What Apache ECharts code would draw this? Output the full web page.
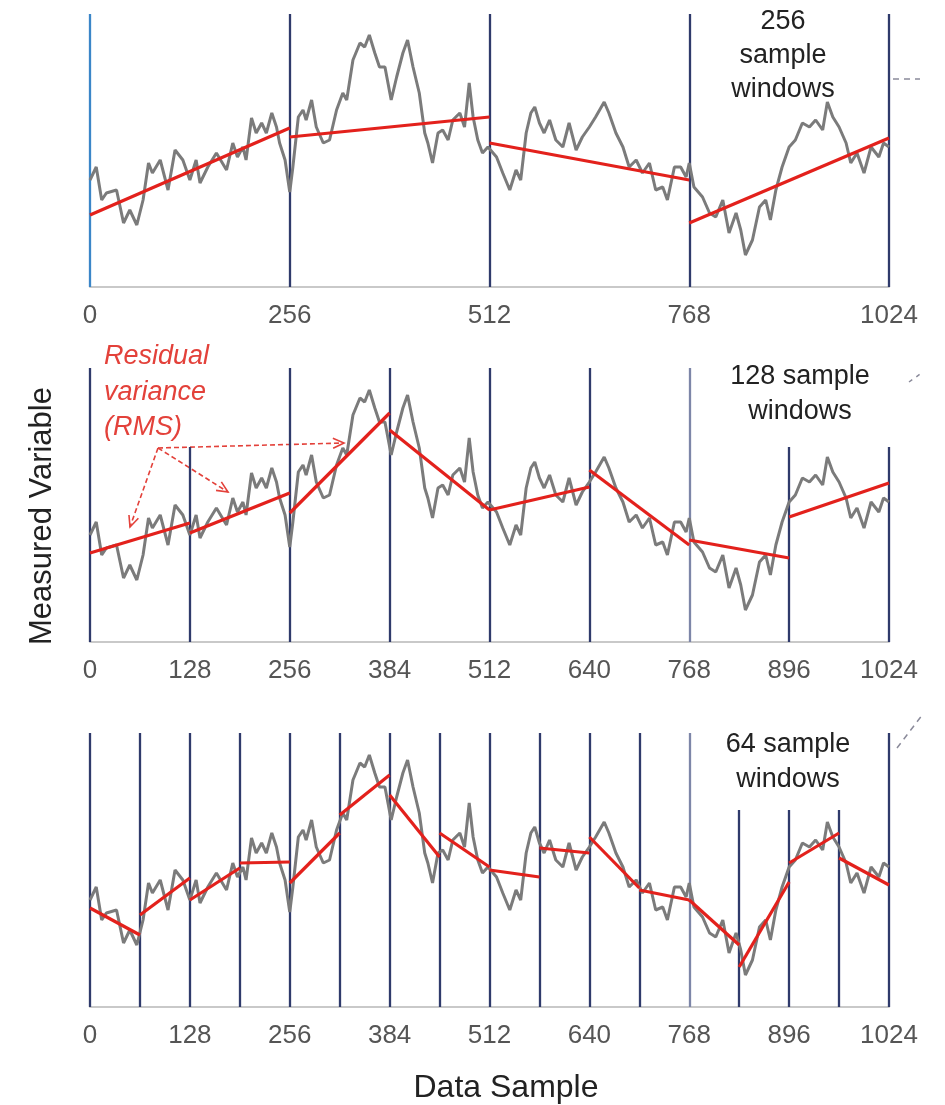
<!DOCTYPE html>
<html>
<head>
<meta charset="utf-8">
<script src="https://cdn.jsdelivr.net/npm/echarts@6/dist/echarts.min.js"></script>
<style>
html,body{margin:0;padding:0;background:#fff;}
#chart{width:945px;height:1105px;}
</style>
</head>
<body>
<div id="chart"></div>
<script>
// ---- data ----
var sampleIdx = [0,8,15,21,34,43,51,60,68,75,80,90,100,109,119,128,136,141,151,162,175,183,189,196,200,207,213,220,226,233,239,243,250,256,260,267,273,277,284,290,299,307,316,324,329,337,346,352,358,365,371,378,386,393,401,407,414,422,429,433,439,446,452,459,465,474,480,486,491,497,503,510,521,529,538,546,552,559,565,570,576,582,589,597,606,614,623,631,640,648,659,665,674,683,691,700,708,717,725,734,740,749,757,764,768,774,785,794,802,811,819,828,834,840,849,858,866,872,879,887,896,904,913,922,930,939,945,952,960,969,975,983,992,1001,1011,1017,1024];
var signalVals = [107,120,87,94,97,64,77,62,87,124,114,127,97,137,127,107,127,104,120,134,117,144,130,140,127,169,154,164,154,174,160,144,127,95,120,170,177,167,187,160,144,147,177,194,187,227,244,240,252,234,220,220,187,210,234,247,220,194,154,144,124,154,157,147,167,174,160,204,170,147,134,140,130,114,97,117,107,154,174,180,164,154,167,147,140,164,137,150,160,170,185,174,154,140,120,127,114,124,97,100,87,120,120,110,124,100,90,74,70,87,54,74,57,32,47,80,87,67,97,120,140,147,164,160,167,157,185,170,160,144,124,134,114,140,130,144,140];

// window sizes per panel
var windowSizes = [256, 128, 64];
// linear-fit endpoints [start, end] per window
var fit256 = [[72,159],[150,170],[144,107],[64,149]];
var fit128 = [[89,119],[109,149],[129,229],[212,132],[132,155],[172,97],[102,84],[125,159]];
var fit64  = [[99,72],[92,129],[107,139],[144,145],[124,174],[192,232],[212,150],[174,140],[137,130],[159,154],[170,119],[117,107],[107,62],[40,125],[144,174],[149,122]];
// top of each window boundary line (one per boundary 0..1024)
var lineTop256 = [273,273,273,273,273];
var lineTop128 = [274,195,274,274,274,274,274,195,195];
var lineTop64  = [274,274,274,274,274,274,274,274,274,274,274,274,274,197,197,197,274];
var tickInterval = [256, 128, 128];
var panelNotes = ['256\nsample\nwindows', '128 sample\nwindows', '64 sample\nwindows'];

// ---- build ----
var fits = [fit256, fit128, fit64];
var tops = [lineTop256, lineTop128, lineTop64];
var signal = sampleIdx.map(function(s,i){ return [s, signalVals[i]]; });
var font = 'Liberation Sans, Arial, Helvetica, sans-serif';

var gridTops = [12, 367, 732];
var grids = [], xAxes = [], yAxes = [], series = [];
for (var p = 0; p < 3; p++) {
  grids.push({left: 90, width: 799, top: gridTops[p], height: 275});
  xAxes.push({
    type: 'value', gridIndex: p, min: 0, max: 1024, interval: tickInterval[p],
    axisLine: {show: true, lineStyle: {color: '#c9c9c9', width: 2}},
    axisTick: {show: false}, splitLine: {show: false},
    axisLabel: {color: '#555', fontSize: 26, margin: 16, fontFamily: font,
      showMinLabel: true, showMaxLabel: true,
      formatter: function(v){ return String(v); }}
  });
  yAxes.push({type: 'value', gridIndex: p, min: 0, max: 275, show: false});

  var w = windowSizes[p];
  var vl = tops[p].map(function(t, i){
    var x = i * w;
    var col = '#2f3a6b';
    if (p === 0 && i === 0) col = '#3b86c8';
    if (p > 0 && x === 768) col = '#7d86a8';
    return {coords: [[x, 0], [x, t]], lineStyle: {color: col}};
  });
  series.push({
    type: 'lines', coordinateSystem: 'cartesian2d', xAxisIndex: p, yAxisIndex: p,
    data: vl, silent: true, z: 1,
    lineStyle: {width: 2.3, opacity: 1}
  });
  series.push({
    type: 'line', xAxisIndex: p, yAxisIndex: p, data: signal, showSymbol: false,
    lineStyle: {color: '#7b7b7b', width: 3}, z: 2, silent: true
  });
  var fd = fits[p].map(function(f, i){
    return {coords: [[i * w, f[0]], [(i + 1) * w, f[1]]]};
  });
  series.push({
    type: 'lines', coordinateSystem: 'cartesian2d', xAxisIndex: p, yAxisIndex: p,
    data: fd, silent: true, z: 3,
    lineStyle: {color: '#e3211c', width: 3.2, opacity: 1}
  });
}

// arrows
function arrow(x0, y0, x1, y1) {
  var dx = x1 - x0, dy = y1 - y0, L = Math.sqrt(dx*dx + dy*dy);
  var ux = dx / L, uy = dy / L, px = -uy, py = ux, h = 11, s = 5;
  return [
    {type: 'line', shape: {x1: x0, y1: y0, x2: x1, y2: y1},
      style: {stroke: '#e3413a', lineWidth: 1.6, lineDash: [5, 3]}},
    {type: 'polyline', shape: {points: [[x1 - ux*h + px*s, y1 - uy*h + py*s], [x1, y1], [x1 - ux*h - px*s, y1 - uy*h - py*s]]},
      style: {stroke: '#e3413a', lineWidth: 1.6, fill: null}}
  ];
}

var graphics = [];
graphics.push({type: 'text', x: 783, y: 5,
  style: {text: panelNotes[0], font: '27px ' + font, fill: '#222', align: 'center', lineHeight: 34}});
graphics.push({type: 'text', x: 800, y: 359,
  style: {text: panelNotes[1], font: '27px ' + font, fill: '#222', align: 'center', lineHeight: 35}});
graphics.push({type: 'text', x: 788, y: 727,
  style: {text: panelNotes[2], font: '27px ' + font, fill: '#222', align: 'center', lineHeight: 35}});
graphics.push({type: 'text', x: 104, y: 339,
  style: {text: 'Residual\nvariance\n(RMS)', font: 'italic 27px ' + font, fill: '#e3413a', align: 'left', lineHeight: 35.5}});
graphics.push({type: 'text', x: 506, y: 1088,
  style: {text: 'Data Sample', font: '32px ' + font, fill: '#222', align: 'center', verticalAlign: 'middle'}});
graphics.push({type: 'text', x: 42, y: 516, rotation: Math.PI / 2,
  style: {text: 'Measured Variable', font: '31px ' + font, fill: '#222', align: 'center', verticalAlign: 'middle'}});
graphics = graphics.concat(arrow(158, 448, 130, 527));
graphics = graphics.concat(arrow(158, 448, 228, 492));
graphics = graphics.concat(arrow(158, 448, 344, 443));
// partial connector marks on the right edge
graphics.push({type: 'line', shape: {x1: 893, y1: 79, x2: 920, y2: 79}, style: {stroke: '#8a8a9a', lineWidth: 1.5, lineDash: [6, 5]}});
graphics.push({type: 'line', shape: {x1: 909, y1: 382, x2: 923, y2: 372}, style: {stroke: '#8a8a9a', lineWidth: 1.5, lineDash: [4, 5]}});
graphics.push({type: 'line', shape: {x1: 897, y1: 748, x2: 923, y2: 714}, style: {stroke: '#8a8a9a', lineWidth: 1.5, lineDash: [6, 5]}});

var chart = echarts.init(document.getElementById('chart'));
chart.setOption({
  animation: false,
  backgroundColor: '#fff',
  grid: grids, xAxis: xAxes, yAxis: yAxes, series: series,
  graphic: {elements: graphics}
});
</script>
</body>
</html>
